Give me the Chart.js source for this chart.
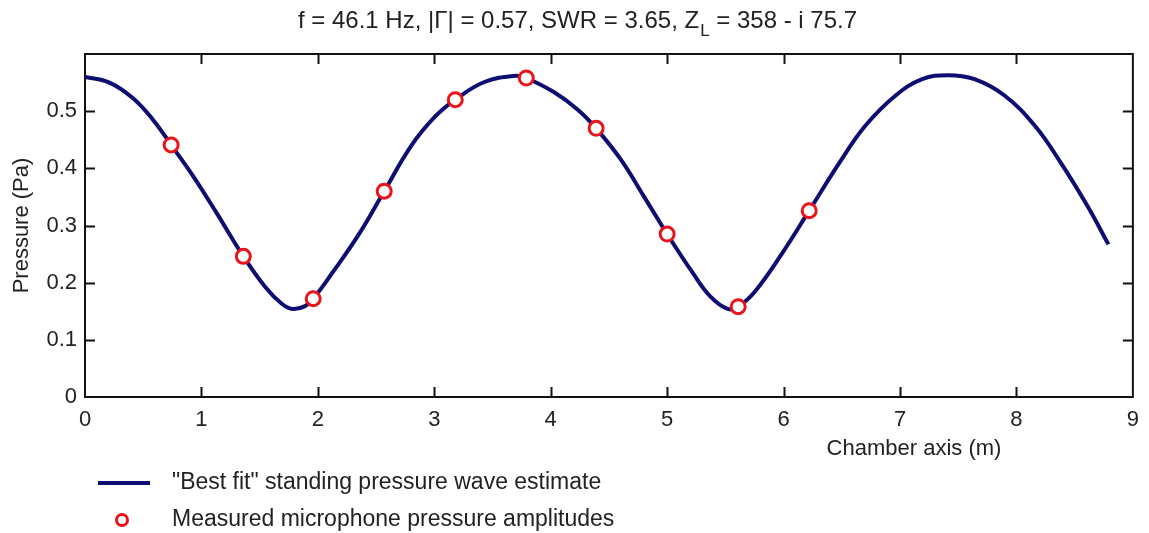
<!DOCTYPE html>
<html lang="en">
<head>
    <meta charset="UTF-8"/>
    <script src="https://cdn.jsdelivr.net/npm/chart.js@4.4.1/dist/chart.umd.min.js"></script>
    <title>standing wave</title>
    <style>
        html, body { margin: 0; padding: 0; background: #fff; }
        #wrap { width: 1149px; height: 533px; }
    </style>
</head>
<body>
<div id="wrap"><canvas id="waveChart" width="1149" height="533"></canvas></div>
<script>
    // fitted curve (x in m, pressure in Pa)
    const curveX = [0, 0.21, 0.41, 0.58, 0.74, 0.93, 1.13, 1.36, 1.55, 1.69, 1.78, 1.89, 1.96, 2.12, 2.35, 2.57, 2.80, 3.00, 3.18, 3.43, 3.70, 3.79, 4.03, 4.23, 4.39, 4.60, 4.80, 5.00, 5.22, 5.37, 5.52, 5.61, 5.76, 5.99, 6.22, 6.48, 6.70, 6.96, 7.19, 7.41, 7.64, 7.90, 8.16, 8.38, 8.61, 8.79];
    const curveY = [0.560, 0.550, 0.523, 0.486, 0.441, 0.386, 0.322, 0.246, 0.192, 0.163, 0.154, 0.159, 0.172, 0.216, 0.284, 0.360, 0.439, 0.489, 0.520, 0.551, 0.562, 0.558, 0.533, 0.503, 0.470, 0.416, 0.351, 0.285, 0.217, 0.176, 0.154, 0.158, 0.186, 0.252, 0.326, 0.410, 0.474, 0.527, 0.556, 0.563, 0.556, 0.527, 0.474, 0.410, 0.334, 0.267];
    // microphone readings
    const micX = [0.74, 1.36, 1.96, 2.57, 3.18, 3.79, 4.39, 5.00, 5.61, 6.22];
    const micY = [0.441, 0.246, 0.172, 0.360, 0.520, 0.558, 0.470, 0.285, 0.158, 0.326];
    // axes
    const xTicks = [0, 1, 2, 3, 4, 5, 6, 7, 8, 9];
    const yTicks = [0, 0.1, 0.2, 0.3, 0.4, 0.5, 0.6];

    const FONT = "'Liberation Sans', Arial, sans-serif";
    const TXT = '#222';
    const NAVY = '#0d0d72';
    const RED = '#e8141a';

    const frame = {
        id: 'frame',
        beforeDatasetsDraw(chart) {
            const {ctx, chartArea: a, scales: {x, y}} = chart;
            ctx.save();
            ctx.strokeStyle = '#111';
            ctx.lineWidth = 2;
            ctx.strokeRect(a.left, a.top, a.right - a.left, a.bottom - a.top);
            ctx.beginPath();
            xTicks.slice(1, -1).forEach(v => {
                const px = Math.round(x.getPixelForValue(v)) + 0.5;
                ctx.moveTo(px, a.bottom); ctx.lineTo(px, a.bottom - 10);
                ctx.moveTo(px, a.top); ctx.lineTo(px, a.top + 10);
            });
            yTicks.slice(1, -1).forEach(v => {
                const py = Math.round(y.getPixelForValue(v)) + 0.5;
                ctx.moveTo(a.left, py); ctx.lineTo(a.left + 10, py);
                ctx.moveTo(a.right, py); ctx.lineTo(a.right - 10, py);
            });
            ctx.stroke();
            ctx.restore();
        },
        afterDraw(chart) {
            const ctx = chart.ctx;
            ctx.save();
            ctx.fillStyle = TXT;
            // title with subscript L
            const big = '24px ' + FONT, small = '17px ' + FONT;
            const p1 = 'f = 46.1 Hz, |\u0393| = 0.57, SWR = 3.65, Z', p2 = 'L', p3 = ' = 358 - i 75.7';
            ctx.font = big;
            const w1 = ctx.measureText(p1).width, w3 = ctx.measureText(p3).width;
            ctx.font = small;
            const w2 = ctx.measureText(p2).width;
            let tx = 577 - (w1 + w2 + w3) / 2;
            ctx.textBaseline = 'alphabetic';
            ctx.textAlign = 'left';
            ctx.font = big; ctx.fillText(p1, tx, 28); tx += w1;
            ctx.font = small; ctx.fillText(p2, tx + 1, 36); tx += w2 + 1;
            ctx.font = big; ctx.fillText(p3, tx, 28);
            // x axis title
            ctx.font = '22px ' + FONT;
            ctx.textAlign = 'center';
            ctx.textBaseline = 'middle';
            ctx.fillText('Chamber axis (m)', 914, 449);
            // legend
            ctx.font = '23px ' + FONT;
            ctx.textAlign = 'left';
            ctx.fillText('"Best fit" standing pressure wave estimate', 172, 483);
            ctx.fillText('Measured microphone pressure amplitudes', 172, 520);
            ctx.strokeStyle = NAVY;
            ctx.lineWidth = 4;
            ctx.beginPath(); ctx.moveTo(98, 483); ctx.lineTo(150, 483); ctx.stroke();
            ctx.strokeStyle = RED;
            ctx.lineWidth = 3;
            ctx.beginPath(); ctx.arc(122, 520, 5.5, 0, Math.PI * 2); ctx.stroke();
            ctx.restore();
        }
    };

    const ctx = document.getElementById('waveChart').getContext('2d');
    const waveChart = new Chart(ctx, {
        type: 'scatter',
        data: {
            datasets: [{
                label: '"Best fit" standing pressure wave estimate',
                data: curveX.map((v, i) => ({x: v, y: curveY[i]})),
                showLine: true,
                borderColor: NAVY,
                borderWidth: 4,
                pointRadius: 0,
                tension: 0.4,
                order: 2
            }, {
                label: 'Measured microphone pressure amplitudes',
                data: micX.map((v, i) => ({x: v, y: micY[i]})),
                showLine: false,
                pointStyle: 'circle',
                pointRadius: 7,
                borderWidth: 3,
                borderColor: RED,
                backgroundColor: '#fff',
                order: 1
            }]
        },
        options: {
            responsive: false,
            animation: false,
            layout: {padding: {left: 0, top: 54, right: 11, bottom: 0}},
            plugins: {legend: {display: false}, tooltip: {enabled: false}},
            scales: {
                x: {
                    type: 'linear', min: 0, max: 9,
                    afterFit: s => { s.height = 136; },
                    afterBuildTicks: s => { s.ticks = xTicks.map(v => ({value: v})); },
                    grid: {display: false, drawTicks: false},
                    border: {display: false},
                    ticks: {color: TXT, font: {family: FONT, size: 22}, padding: 10, maxRotation: 0,
                        callback: v => String(v)}
                },
                y: {
                    min: 0, max: 0.6,
                    afterFit: s => { s.width = 85; },
                    afterBuildTicks: s => { s.ticks = yTicks.map(v => ({value: v})); },
                    grid: {display: false, drawTicks: false},
                    border: {display: false},
                    title: {display: true, text: 'Pressure (Pa)', color: TXT, font: {family: FONT, size: 22}, padding: {top: 9, bottom: 0}},
                    ticks: {color: TXT, font: {family: FONT, size: 22}, padding: 8,
                        callback: v => (v > 0.55 ? '' : String(Math.round(v * 10) / 10))}
                }
            }
        },
        plugins: [frame]
    });
</script>
</body>
</html>
